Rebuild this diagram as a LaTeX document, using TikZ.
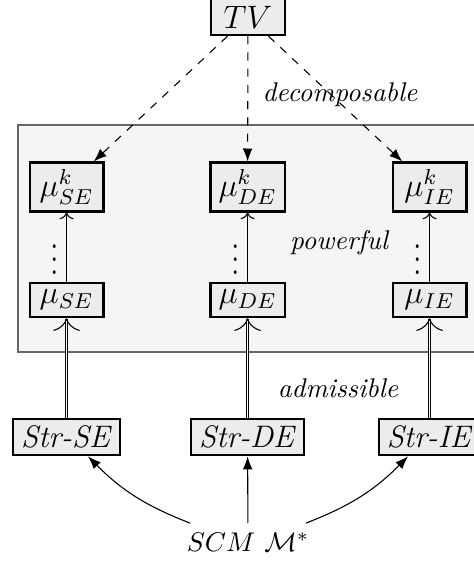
\documentclass[tikz,border=0pt]{standalone}
\usepackage{amsmath}
\usepackage{amssymb}
\usepackage{graphicx}
\usepackage{tikz}
\usetikzlibrary{arrows.meta}
\usetikzlibrary{calc}

\begin{document}
\begin{tikzpicture}[
    caja/.style={draw, thick, fill=gray!15, font=\fontsize{11.5}{14}\selectfont,
        inner xsep=3pt, inner ysep=2.6pt, minimum width=0.96cm},
    puntos/.style={font=\fontsize{11.5}{14}\selectfont, inner sep=0pt},
    etiqueta/.style={font=\itshape},
    descompone/.style={dashed, -{Latex}},
    genera/.style={-{Latex}},
    admite/.style={double, ->}
]
    \useasboundingbox (0,0) rectangle (6.162,7.397);

    % Fondo
    \draw[fill=gray!8, draw=gray!80!black] (0.234,2.821) rectangle (7,5.772);

    % Efecto total
    \node[caja] (TV) at (3.224,7.176) {$TV$};

    % Medidas con k
    \node[caja] (muSEk) at (0.865,4.966) {$\mu^k_{SE}$};
    \node[caja] (muDEk) at (3.218,4.966) {$\mu^k_{DE}$};
    \node[caja] (muIEk) at (5.584,4.966) {$\mu^k_{IE}$};

    % Medidas
    \node[caja] (muSE) at (0.865,3.497) {$\mu_{SE}$};
    \node[caja] (muDE) at (3.218,3.497) {$\mu_{DE}$};
    \node[caja] (muIE) at (5.584,3.497) {$\mu_{IE}$};

    % Puntos
    \node[puntos] (dSE) at (0.708,4.147) {\scalebox{1}[1.2]{$\vdots$}};
    \node[puntos] (dDE) at (3.061,4.147) {\scalebox{1}[1.2]{$\vdots$}};
    \node[puntos] (dIE) at (5.427,4.147) {\scalebox{1}[1.2]{$\vdots$}};

    % Efectos estructurales
    \node[caja] (strSE) at (0.865,1.716) {\textit{Str-SE}};
    \node[caja] (strDE) at (3.218,1.716) {\textit{Str-DE}};
    \node[caja] (strIE) at (5.584,1.716) {\textit{Str-IE}};

    % Modelo
    \node (SCM) at (3.224,0.351) {$SCM\ \mathcal{M}^*$};

    % Etiquetas
    \node[etiqueta] (lDec) at (4.42,6.162) {decomposable};
    \node[etiqueta] (lPow) at (4.407,4.238) {powerful};
    \node[etiqueta] (lAdm) at (4.394,2.353) {admissible};

    % Flechas
    \draw[descompone] (TV) -- (muSEk);
    \draw[descompone] (TV) -- (muDEk);
    \draw[descompone] (TV) -- (muIEk);

    \draw[->] (muSE) -- (muSEk);
    \draw[->] (muDE) -- (muDEk);
    \draw[->] (muIE) -- (muIEk);

    \draw[admite] (strSE) -- (muSE);
    \draw[admite] (strDE) -- (muDE);
    \draw[admite] (strIE) -- (muIE);

    \draw[genera] (SCM) to[bend left=12] (strSE);
    \draw[genera] (SCM) -- (strDE);
    \draw[genera] (SCM) to[bend right=12] (strIE);

\end{tikzpicture}
\end{document}
